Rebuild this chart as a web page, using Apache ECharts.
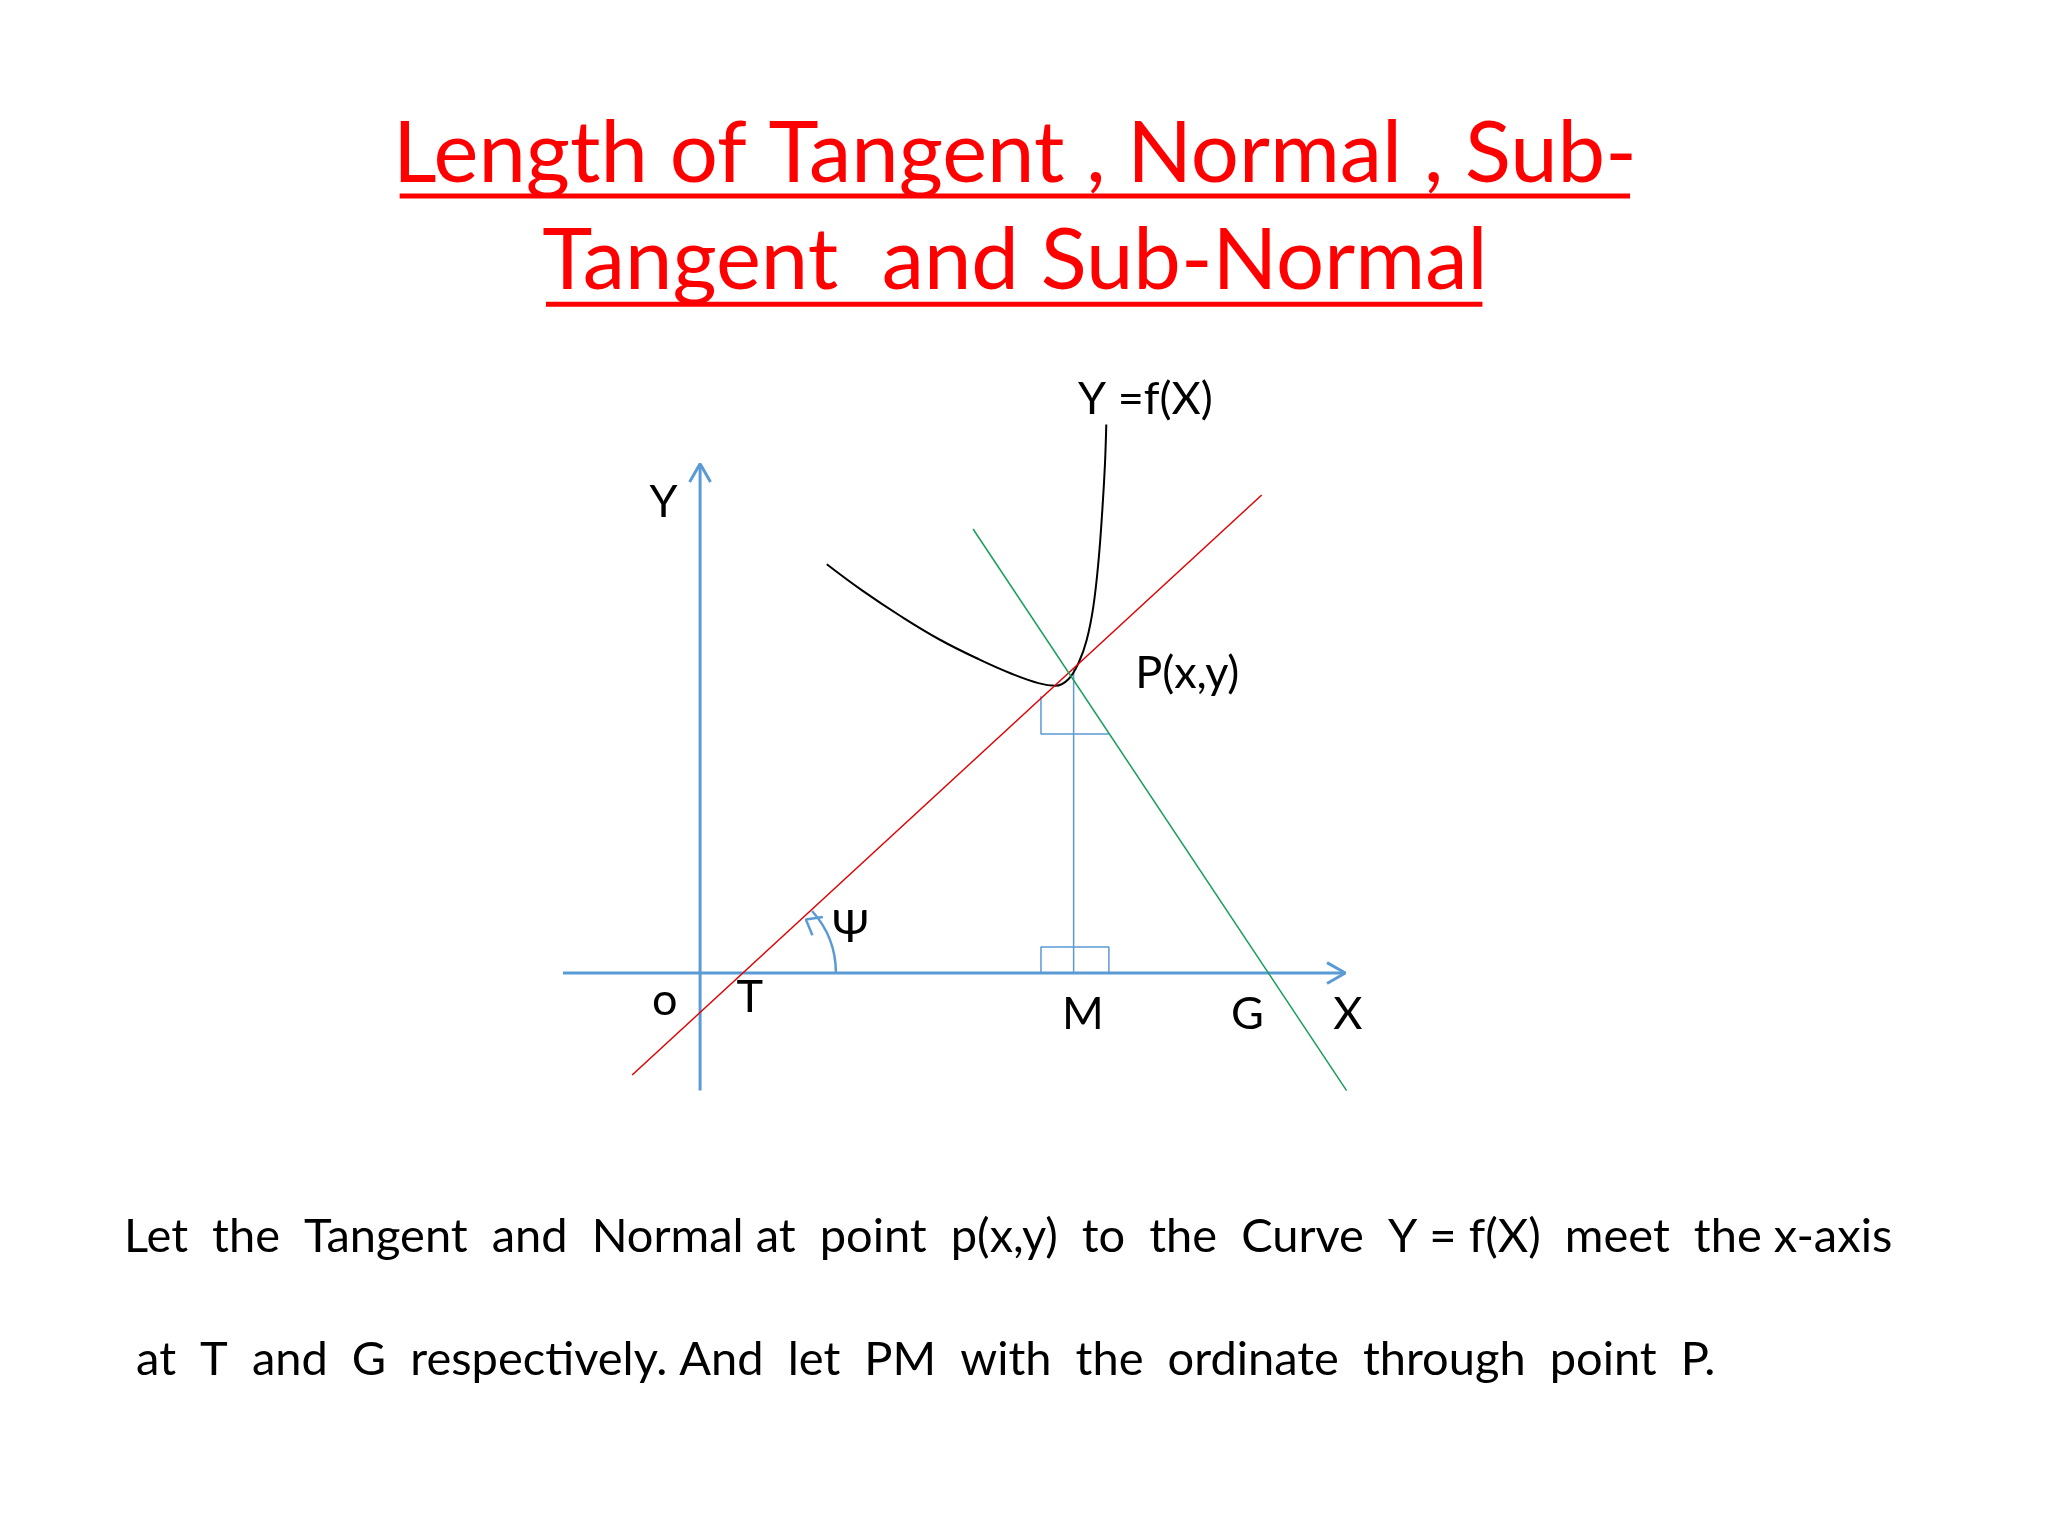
<!DOCTYPE html>
<html><head><meta charset="utf-8">
<script src="https://cdn.jsdelivr.net/npm/echarts@6/dist/echarts.min.js"></script>
<style>html,body{margin:0;padding:0;background:#fff}#c{width:2048px;height:1536px}</style>
</head><body><div id="c"></div>
<script>
// Diagram geometry in reference units (1568 x 1176 slide)
const yAxisLine = [[536,835],[536,357]];
const yAxisArrow = [[528,369],[536,355],[544,369]];
const xAxisLine = [[431,745],[1028,745]];
const xAxisArrow = [[1016,737],[1030,745],[1016,753]];
const curve = [[633,432],[660,452],[690,472],[720,490],[750,505],[775,516],[795,523],[808,525],[818,520],[826,507],[832,490],[837,465],[841,430],[844,390],[846,355],[847,325]];
const tangent = [[484,823],[966,379]];
const normal = [[745,405],[1031,835]];
const ordinatePM = [[822,512],[822,745]];
const squareM = [[797,745],[797,725],[849,725],[849,745]];
const squareP = [[797,533],[797,562],[849,562]];
const psiArrow = [[630,702],[617,704],[622,716]];
const labels = [
  ['Y',508,385],['o',509,766],['T',574,764],['M',829,777],['G',955,777],['X',1032,777],
  ['P(x,y)',909,516],['Y =f(X)',877,306],['Ψ',651,710]
];
const titleLines = ['Length of Tangent , Normal , Sub-','Tangent  and Sub-Normal'];
const bodyLines = [
  'Let  the  Tangent  and  Normal at  point  p(x,y)  to  the  Curve  Y = f(X)  meet  the x-axis',
  ' at  T  and  G  respectively. And  let  PM  with  the  ordinate  through  point  P.'
];
const s = 2048/1568;
const font = 'Lato, "Open Sans", sans-serif';
const blue = '#5b9bd5';
function ln(data,color,w){return {type:'line',data,symbol:'none',silent:true,lineStyle:{color,width:w},z:3};}
const graphic = [];
[[titleLines[0],777,118,150,306,1248],[titleLines[1],777,200,233,418,1135]].forEach(t=>{
  graphic.push({type:'text',x:t[1]*s,y:t[2]*s,style:{text:t[0],fill:'#ff0000',font:'85px '+font,align:'center',verticalAlign:'middle'}});
  graphic.push({type:'line',shape:{x1:t[4]*s,y1:t[3]*s,x2:t[5]*s,y2:t[3]*s},style:{stroke:'#ff0000',lineWidth:5}});
});
labels.forEach(l=>graphic.push({type:'text',x:l[1]*s,y:l[2]*s,style:{text:l[0],fill:'#000',font:'45px '+font,align:'center',verticalAlign:'middle'}}));
graphic.push({type:'text',x:95*s,y:947*s,style:{text:bodyLines[0],fill:'#000',font:'47px '+font,verticalAlign:'middle'}});
graphic.push({type:'text',x:95*s,y:1041*s,style:{text:bodyLines[1],fill:'#000',font:'47px '+font,verticalAlign:'middle'}});
graphic.push({type:'arc',shape:{cx:569*s,cy:745*s,r:71*s,startAngle:-Math.PI*42/180,endAngle:0},style:{stroke:blue,lineWidth:2.5,fill:null}});
const chart = echarts.init(document.getElementById('c'));
chart.setOption({
  animation:false,
  grid:{left:0,right:0,top:0,bottom:0},
  xAxis:{type:'value',min:0,max:1568,show:false},
  yAxis:{type:'value',min:0,max:1176,inverse:true,show:false},
  graphic,
  series:[
    ln(yAxisLine,blue,3),ln(yAxisArrow,blue,3),ln(xAxisLine,blue,3),ln(xAxisArrow,blue,3),
    ln(ordinatePM,blue,1.5),ln(squareM,blue,1.5),ln(squareP,blue,1.5),ln(psiArrow,blue,2.5),
    {...ln(curve,'#000',2),smooth:0.4},
    ln(tangent,'#e00000',1.5),ln(normal,'#1a9e5a',1.5)
  ]
});
</script></body></html>
